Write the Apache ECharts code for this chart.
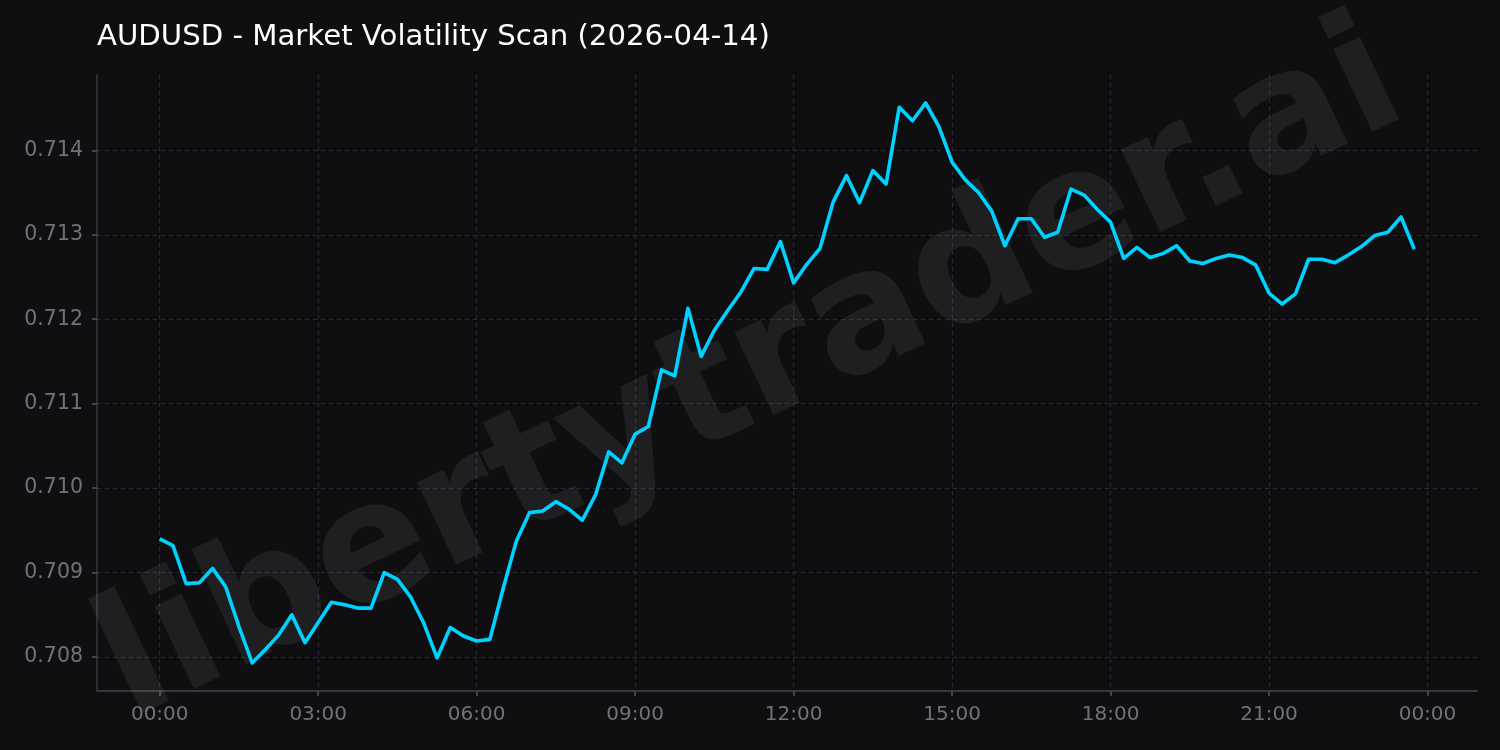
<!DOCTYPE html>
<html>
<head>
<meta charset="utf-8">
<script src="https://cdn.jsdelivr.net/npm/echarts@6/dist/echarts.min.js"></script>
<style>
html,body{margin:0;padding:0;background:#0f0f12;}
#chart{width:1500px;height:750px;}
</style>
</head>
<body>
<div id="chart"></div>
<script>
const chartTitle = "AUDUSD - Market Volatility Scan (2026-04-14)";
const watermarkText = "libertytrader.ai";
const stepMinutes = 15;
const prices = [
  0.70940, 0.70932, 0.70887, 0.70888, 0.70905, 0.70883, 0.70836, 0.70793,
  0.70809, 0.70826, 0.70850, 0.70817, 0.70841, 0.70865, 0.70862, 0.70858,
  0.70858, 0.70900, 0.70892, 0.70871, 0.70840, 0.70799, 0.70835, 0.70825,
  0.70819, 0.70821, 0.70881, 0.70937, 0.70971, 0.70973, 0.70984, 0.70975,
  0.70962, 0.70992, 0.71043, 0.71030, 0.71064, 0.71073, 0.71140, 0.71133,
  0.71213, 0.71156, 0.71187, 0.71210, 0.71232, 0.71260, 0.71259, 0.71292,
  0.71243, 0.71265, 0.71284, 0.71339, 0.71370, 0.71338, 0.71376, 0.71360,
  0.71451, 0.71435, 0.71456, 0.71428, 0.71386, 0.71365, 0.71350, 0.71328,
  0.71287, 0.71319, 0.71319, 0.71297, 0.71303, 0.71354, 0.71347, 0.71330,
  0.71315, 0.71272, 0.71285, 0.71273, 0.71278, 0.71287, 0.71269, 0.71266,
  0.71272, 0.71276, 0.71273, 0.71264, 0.71231, 0.71218, 0.71230, 0.71271,
  0.71271, 0.71267, 0.71276, 0.71286, 0.71299, 0.71303, 0.71321, 0.71283
];
const xTickMinutes = [0, 180, 360, 540, 720, 900, 1080, 1260, 1440];
const yTickValues = [0.708, 0.709, 0.710, 0.711, 0.712, 0.713, 0.714];

const seriesData = prices.map((v, i) => [i * stepMinutes, v]);
const lastMinute = (prices.length - 1) * stepMinutes;
const xPad = lastMinute * 0.05;
const yMin = Math.min(...prices), yMax = Math.max(...prices);
const yPad = (yMax - yMin) * 0.05;

function fmtTime(m) {
  const mm = ((m % 1440) + 1440) % 1440;
  const h = Math.floor(mm / 60), mi = mm % 60;
  return String(h).padStart(2, '0') + ':' + String(mi).padStart(2, '0');
}

const gridColor = '#2a2a2f';
const labelColor = '#6e737b';
const font = 'DejaVu Sans';

const chart = echarts.init(document.getElementById('chart'), null, {renderer: 'canvas'});
chart.setOption({
  backgroundColor: '#0f0f12',
  animation: false,
  title: {
    text: chartTitle,
    left: 92,
    top: 18,
    textStyle: {color: '#ffffff', fontFamily: font, fontWeight: 'normal', fontSize: 29.2}
  },
  grid: {left: 97, right: 23, top: 75, bottom: 59, containLabel: false},
  graphic: [{
    type: 'text',
    z: 1,
    x: 752, y: 377,
    rotation: 25.3 * Math.PI / 180,
    silent: true,
    style: {
      text: watermarkText,
      x: 0, y: 0,
      align: 'center', verticalAlign: 'middle',
      font: 'bold 167px "DejaVu Sans"',
      fill: 'rgba(255,255,255,0.07)'
    }
  }],
  xAxis: {
    type: 'value',
    min: -xPad,
    max: lastMinute + xPad,
    axisLine: {show: true, onZero: false, lineStyle: {color: '#38383c', width: 2}},
    axisTick: {show: true, length: 5, customValues: xTickMinutes, lineStyle: {color: '#55575c', width: 1.5}},
    axisLabel: {customValues: xTickMinutes, formatter: v => fmtTime(v), color: labelColor, fontSize: 20, fontFamily: font, margin: 14},
    splitLine: {show: true, lineStyle: {color: gridColor, type: [4, 4], width: 1}}
  },
  yAxis: {
    type: 'value',
    min: yMin - yPad,
    max: yMax + yPad,
    axisLine: {show: true, onZero: false, lineStyle: {color: '#38383c', width: 1.5}},
    axisTick: {show: true, length: 5, customValues: yTickValues, lineStyle: {color: '#55575c', width: 1.5}},
    axisLabel: {customValues: yTickValues, formatter: v => v.toFixed(3), color: labelColor, fontSize: 20.5, fontFamily: font, margin: 14},
    splitLine: {show: true, lineStyle: {color: gridColor, type: [4, 4], width: 1}}
  },
  series: [{
    type: 'line',
    data: seriesData,
    z: 3,
    showSymbol: false,
    symbol: 'none',
    lineStyle: {color: '#00d2ff', width: 3.6, join: 'round'}
  }]
});
</script>
</body>
</html>
